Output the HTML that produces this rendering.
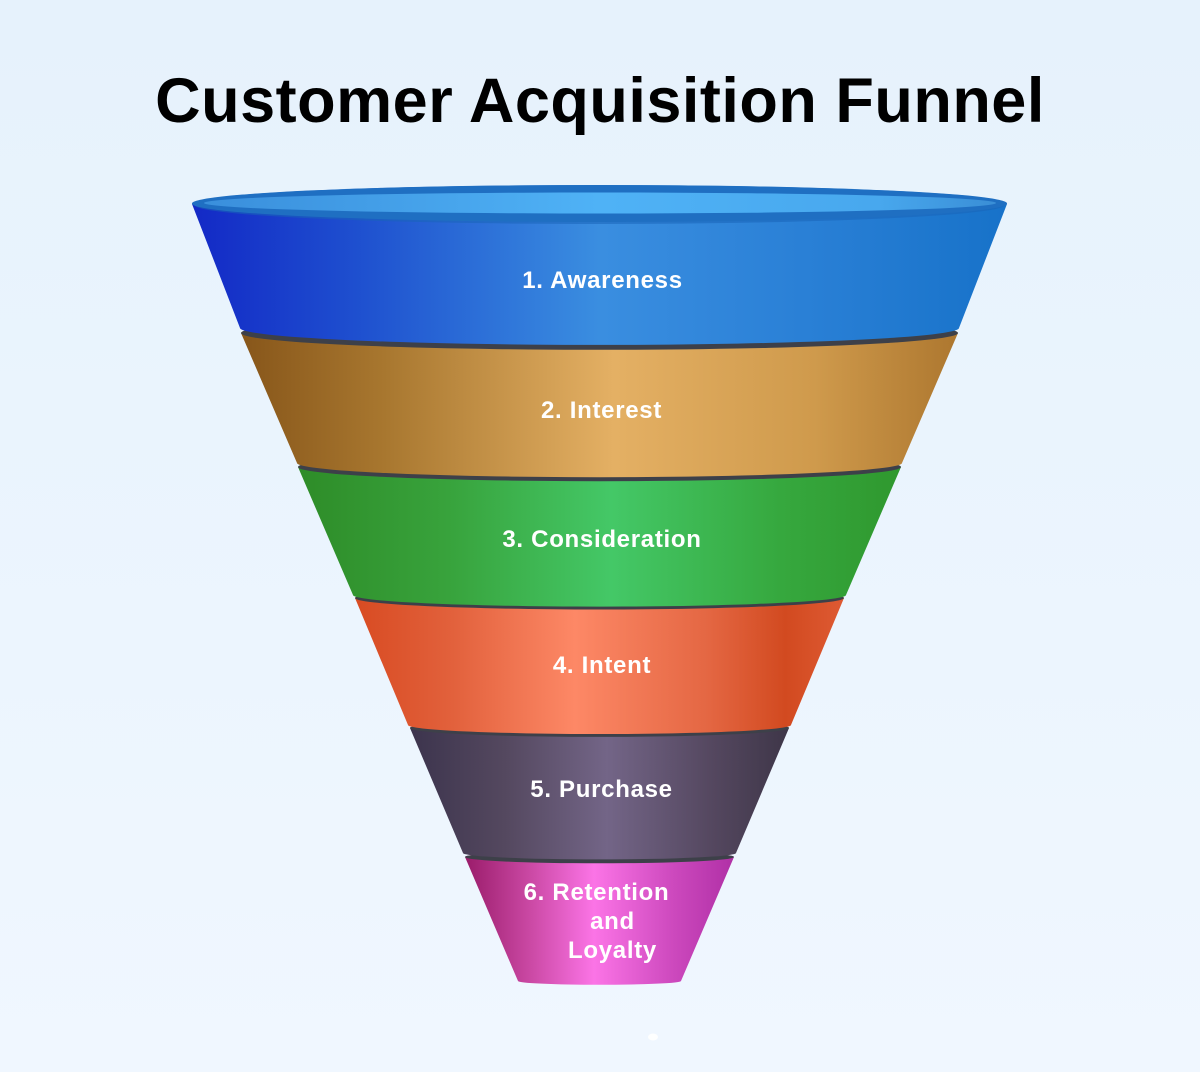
<!DOCTYPE html>
<html>
<head>
<meta charset="utf-8">
<style>
  html, body { margin: 0; padding: 0; }
  body { width: 1200px; height: 1072px; overflow: hidden; background: #eaf4fd; }
  svg { display: block; }
  .lbl { font-family: "Liberation Sans", Arial, sans-serif; font-weight: bold; font-size: 24px; fill: #ffffff; letter-spacing: 0.7px; }
  .title { font-family: "Liberation Sans", Arial, sans-serif; font-weight: bold; font-size: 63px; fill: #000000; letter-spacing: 0.5px; }
</style>
</head>
<body>
<svg width="1200" height="1072" viewBox="0 0 1200 1072" xmlns="http://www.w3.org/2000/svg">
  <defs>
    <linearGradient id="bg" x1="0" y1="0" x2="0" y2="1">
      <stop offset="0" stop-color="#e6f2fc"/>
      <stop offset="1" stop-color="#f0f7ff"/>
    </linearGradient>
    <linearGradient id="g1" x1="0" y1="0" x2="1" y2="0">
      <stop offset="0" stop-color="#1329c6"/>
      <stop offset="0.2" stop-color="#1e4fcf"/>
      <stop offset="0.5" stop-color="#3a8ee0"/>
      <stop offset="0.75" stop-color="#2a80d6"/>
      <stop offset="1" stop-color="#1772c9"/>
    </linearGradient>
    <linearGradient id="g2" x1="0" y1="0" x2="1" y2="0">
      <stop offset="0" stop-color="#87561a"/>
      <stop offset="0.2" stop-color="#a8772f"/>
      <stop offset="0.52" stop-color="#e4b064"/>
      <stop offset="0.8" stop-color="#cf9a4c"/>
      <stop offset="1" stop-color="#ad772f"/>
    </linearGradient>
    <linearGradient id="g3" x1="0" y1="0" x2="1" y2="0">
      <stop offset="0" stop-color="#2e8c28"/>
      <stop offset="0.25" stop-color="#38a33c"/>
      <stop offset="0.52" stop-color="#44c867"/>
      <stop offset="0.8" stop-color="#36a83e"/>
      <stop offset="1" stop-color="#2f982e"/>
    </linearGradient>
    <linearGradient id="g4" x1="0" y1="0" x2="1" y2="0">
      <stop offset="0" stop-color="#d84b22"/>
      <stop offset="0.2" stop-color="#e2613c"/>
      <stop offset="0.45" stop-color="#fd8866"/>
      <stop offset="0.72" stop-color="#e46743"/>
      <stop offset="0.88" stop-color="#d24a20"/>
      <stop offset="1" stop-color="#de5a33"/>
    </linearGradient>
    <linearGradient id="g5" x1="0" y1="0" x2="1" y2="0">
      <stop offset="0" stop-color="#3c344d"/>
      <stop offset="0.25" stop-color="#54485f"/>
      <stop offset="0.52" stop-color="#736587"/>
      <stop offset="0.8" stop-color="#54475f"/>
      <stop offset="1" stop-color="#3e3648"/>
    </linearGradient>
    <linearGradient id="g6" x1="0" y1="0" x2="1" y2="0">
      <stop offset="0" stop-color="#9a1c6a"/>
      <stop offset="0.25" stop-color="#cc4aa6"/>
      <stop offset="0.48" stop-color="#fb74e6"/>
      <stop offset="0.78" stop-color="#cc48bd"/>
      <stop offset="1" stop-color="#b030a6"/>
    </linearGradient>
    <linearGradient id="rim" x1="0" y1="0" x2="1" y2="0">
      <stop offset="0" stop-color="#3a8fdc"/>
      <stop offset="0.5" stop-color="#4fb2f6"/>
      <stop offset="0.85" stop-color="#48a8ee"/>
      <stop offset="1" stop-color="#3a8ed6"/>
    </linearGradient>
  </defs>

  <rect x="0" y="0" width="1200" height="1072" fill="url(#bg)"/>

  <text class="title" x="600" y="122" text-anchor="middle">Customer Acquisition Funnel</text>

  <!-- Segment 6 -->
  <path d="M465,857 L518,981 A81.5,3.8 0 0 0 681,981 L734,857 A134.5,6.3 0 0 0 465,857 Z" fill="url(#g6)"/>
  <ellipse cx="599.5" cy="857" rx="134.5" ry="6.3" fill="#3d4049"/>

  <!-- Segment 5 -->
  <path d="M410,728 L463,853 A136.5,6.4 0 0 0 736,853 L789,728 A189.5,8.9 0 0 0 410,728 Z" fill="url(#g5)"/>
  <ellipse cx="599.5" cy="728" rx="189.5" ry="8.9" fill="#3d4049"/>

  <!-- Segment 4 -->
  <path d="M355,598 L408,725 A191.5,9 0 0 0 791,725 L844,598 A244.5,11.5 0 0 0 355,598 Z" fill="url(#g4)"/>
  <ellipse cx="599.5" cy="598" rx="244.5" ry="11.5" fill="#3d4049"/>

  <!-- Segment 3 -->
  <path d="M298,467 L353,595 A246.5,11.6 0 0 0 846,595 L901,467 A301.5,14.2 0 0 0 298,467 Z" fill="url(#g3)"/>
  <ellipse cx="599.5" cy="467" rx="301.5" ry="14.2" fill="#3d4049"/>

  <!-- Segment 2 -->
  <path d="M241,333 L297,463 A302.5,14.2 0 0 0 902,463 L958,333 A358.5,16.8 0 0 0 241,333 Z" fill="url(#g2)"/>
  <ellipse cx="599.5" cy="333" rx="358.5" ry="16.8" fill="#3d4049"/>

  <!-- Segment 1 -->
  <path d="M192,204 L240,328 A359.5,16.9 0 0 0 959,328 L1007,204 A407.5,19 0 0 0 192,204 Z" fill="url(#g1)"/>
  <ellipse cx="599.5" cy="205" rx="405" ry="19" fill="#1a64b8" opacity="0.55"/>
  <ellipse cx="599.5" cy="203.5" rx="407.5" ry="18.5" fill="#1f6fc2"/>
  <ellipse cx="600" cy="203" rx="396" ry="10.5" fill="url(#rim)"/>

  <!-- Labels -->
  <text class="lbl" x="602.5" y="288" text-anchor="middle">1. Awareness</text>
  <text class="lbl" x="601.5" y="418" text-anchor="middle">2. Interest</text>
  <text class="lbl" x="602" y="547" text-anchor="middle">3. Consideration</text>
  <text class="lbl" x="602" y="673" text-anchor="middle">4. Intent</text>
  <text class="lbl" x="601.5" y="797" text-anchor="middle">5. Purchase</text>
  <text class="lbl" x="596.5" y="900" text-anchor="middle">6. Retention</text>
  <text class="lbl" x="612.5" y="929" text-anchor="middle">and</text>
  <text class="lbl" x="612.5" y="958" text-anchor="middle">Loyalty</text>

  <ellipse cx="653" cy="1037" rx="5" ry="3.5" fill="#ffffff" opacity="0.9"/>
</svg>
</body>
</html>
